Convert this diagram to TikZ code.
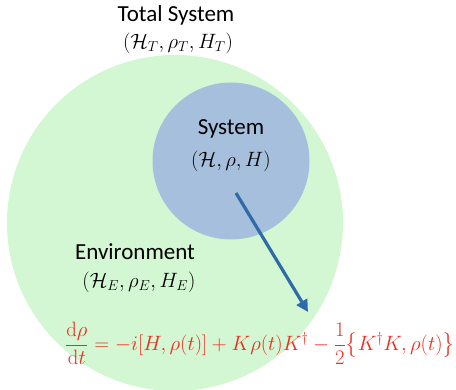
\documentclass[tikz,border=0pt]{standalone}
\usepackage{amsmath}
\usepackage[no-math]{fontspec}
\setmainfont{Carlito}
\usetikzlibrary{arrows.meta}
\definecolor{envgreen}{HTML}{D3F7D3}
\definecolor{sysblue}{HTML}{A6BFDD}
\definecolor{arrowblue}{HTML}{2F6BA8}
\definecolor{eqred}{HTML}{F02A1E}
\tikzset{
  lbl/.style={inner sep=0pt, font=\fontsize{23}{27}\selectfont},
  mlbl/.style={inner sep=0pt, font=\fontsize{21.5}{25}\selectfont},
}
\begin{document}
\begin{tikzpicture}[x=1pt,y=-1pt]
\useasboundingbox (0,0) rectangle (456,390);
\begin{scope}
\clip (0,0) rectangle (456,390);
\fill[envgreen] (175,223) circle (168);
\end{scope}
\fill[sysblue] (231,161) circle (78.5);
\node[lbl] (total) at (176,15) {Total System};
\node[mlbl] (totalm) at (178,43) {$(\mathcal{H}_T,\rho_T,H_T)$};
\node[lbl] (sys) at (231,129) {System};
\node[mlbl] (sysm) at (231,161) {$(\mathcal{H},\rho,H)$};
\node[lbl] (env) at (135,252) {Environment};
\node[mlbl] (envm) at (139,282) {$(\mathcal{H}_E,\rho_E,H_E)$};
\coordinate (a0) at (236,193);
\coordinate (a1) at (308,312);
\draw[arrowblue, line width=3.2pt, -{Triangle[length=12pt,width=12pt]}] (a0) -- (a1);
\node[inner sep=0pt, text=eqred, font=\fontsize{22.5}{27}\selectfont] (eq) at (260,343)
  {$\dfrac{\mathrm{d}\rho}{\mathrm{d}t}=-i[H,\rho(t)]+K\rho(t)K^\dagger-\dfrac{1}{2}\bigl\{K^\dagger K,\rho(t)\bigr\}$};
\end{tikzpicture}
\end{document}
